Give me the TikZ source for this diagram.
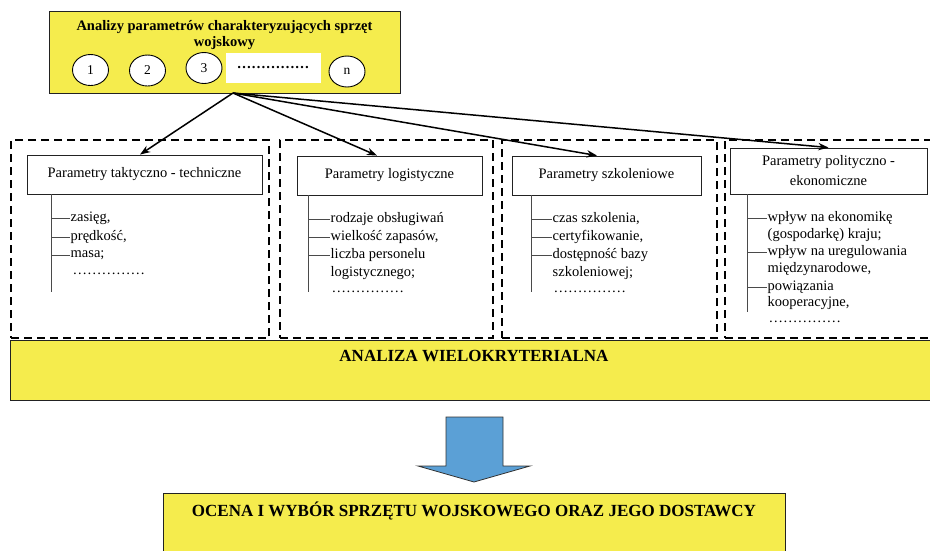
\documentclass[tikz,border=0pt]{standalone}
\usepackage{fontspec}
\setmainfont{Liberation Serif}
\usetikzlibrary{arrows.meta,positioning,calc,shapes.geometric}
\definecolor{PZolty}{HTML}{F5EC4D}
\definecolor{PNiebieski}{HTML}{5BA0D6}
\definecolor{PRamka}{HTML}{222222}
\definecolor{PLinia}{HTML}{4A4A4A}
\tikzset{
  flow/.style={-{Stealth[length=3.6mm,width=2.6mm]},black,line width=1.5pt},
  ramka/.style={draw=black,line width=2.4pt,dash pattern=on 8pt off 5pt},
  zolty/.style={draw=PRamka,fill=PZolty,line width=0.9pt},
  paramkarta/.style={draw=PRamka,fill=white,line width=0.9pt,inner sep=0pt,
                     align=center,font=\fontsize{14.5}{20}\selectfont},
  kolko/.style={ellipse,draw=black,fill=white,line width=0.9pt,inner sep=0pt,
                minimum width=36pt,minimum height=31pt,font=\fontsize{13.5}{16}\selectfont},
  pozycja/.style={anchor=west,inner sep=0.5pt,font=\fontsize{14.5}{18}\selectfont},
  galaz/.style={PLinia,line width=1pt},
  naglowek/.style={font=\bfseries\fontsize{17}{20}\selectfont},
  strzalka/.style={draw=black!80,fill=PNiebieski,line width=0.8pt},
}
\begin{document}
\begin{tikzpicture}[x=1pt,y=-1pt]
    \useasboundingbox (0,0) rectangle (930,550);

    % grupy parametrow
    \node[ramka,minimum width=258pt,minimum height=198pt] (grupa1) at (140,239) {};
    \node[ramka,minimum width=213pt,minimum height=198pt] (grupa2) at (386.5,239) {};
    \node[ramka,minimum width=215pt,minimum height=198pt] (grupa3) at (609.5,239) {};
    \node[ramka,minimum width=245pt,minimum height=198pt] (grupa4) at (847.5,239) {};

    \node[zolty,minimum width=960pt,minimum height=60pt] (analiza) at (490,370) {};
    \node[naglowek] (analizatxt) at (474,356) {ANALIZA WIELOKRYTERIALNA};

    % naglowek z lista analiz
    \node[zolty,minimum width=351pt,minimum height=82pt] (analizy) at (224.5,52) {};
    \node[font=\bfseries\fontsize{14.5}{16}\selectfont,align=center] (tytul) at (224.5,35.5)
      {Analizy parametrów charakteryzujących sprzęt\\wojskowy};
    \node[kolko] (k1) at (90.5,70) {1};
    \node[kolko] (k2) at (147.5,70.5) {2};
    \node[kolko] (k3) at (204,68) {3};
    \node[fill=white,minimum width=95pt,minimum height=30pt,inner sep=0pt,
          font=\bfseries\fontsize{14.5}{15}\selectfont] (kropki) at (273,68) {……………};
    \node[kolko] (kn) at (347,71.5) {n};

    % karty parametrow
    \node[paramkarta,minimum width=235pt,minimum height=39pt] (p1) at (144.5,174.5)
      {Parametry taktyczno - techniczne};
    \node[paramkarta,minimum width=185pt,minimum height=39pt] (p2) at (389.5,175.5)
      {Parametry logistyczne};
    \node[paramkarta,minimum width=189pt,minimum height=39pt] (p3) at (606.5,175.5)
      {Parametry szkoleniowe};
    \node[paramkarta,minimum width=197pt,minimum height=46pt] (p4) at (828.5,171)
      {Parametry polityczno -\\ekonomiczne};

    \coordinate (wezel) at (233,93);
    \draw[flow] (wezel) -- ([xshift=-4.5pt]p1.north);
    \draw[flow] (wezel) -- ([xshift=-12.5pt]p2.north);
    \draw[flow] (wezel) -- ([xshift=-9.5pt]p3.north);
    \draw[flow] (wezel) -- (p4.north);

    % taktyczno-techniczne
    \coordinate (s1) at (51,292);
    \node[pozycja] (t1) at (70,218) {zasięg,};
    \node[pozycja] (t2) at (70,237) {prędkość,};
    \node[pozycja] (t3) at (70,255) {masa;};
    \node[pozycja] (t4) at (72,274) {……………};
    \draw[galaz] (p1.south -| s1) -- (s1);
    \draw[galaz] (t1.west -| s1) -- (t1.west);
    \draw[galaz] (t2.west -| s1) -- (t2.west);
    \draw[galaz] (t3.west -| s1) -- (t3.west);

    % logistyczne
    \coordinate (s2) at (308,292);
    \node[pozycja] (l1) at (330,219) {rodzaje obsługiwań};
    \node[pozycja] (l2) at (330,237) {wielkość zapasów,};
    \node[pozycja] (l3) at (330,255) {liczba personelu};
    \node[pozycja] (l4) at (330,273) {logistycznego;};
    \node[pozycja] (l5) at (331,292) {……………};
    \draw[galaz] (p2.south -| s2) -- (s2);
    \draw[galaz] (l1.west -| s2) -- (l1.west);
    \draw[galaz] (l2.west -| s2) -- (l2.west);
    \draw[galaz] (l3.west -| s2) -- (l3.west);

    % szkoleniowe
    \coordinate (s3) at (531,292);
    \node[pozycja] (e1) at (552,219) {czas szkolenia,};
    \node[pozycja] (e2) at (552,237) {certyfikowanie,};
    \node[pozycja] (e3) at (552,255) {dostępność bazy};
    \node[pozycja] (e4) at (552,273) {szkoleniowej;};
    \node[pozycja] (e5) at (553,292) {……………};
    \draw[galaz] (p3.south -| s3) -- (s3);
    \draw[galaz] (e1.west -| s3) -- (e1.west);
    \draw[galaz] (e2.west -| s3) -- (e2.west);
    \draw[galaz] (e3.west -| s3) -- (e3.west);

    % polityczno-ekonomiczne
    \coordinate (s4) at (747,312);
    \node[pozycja] (w1) at (767,218) {wpływ na ekonomikę};
    \node[pozycja] (w2) at (767,235) {(gospodarkę) kraju;};
    \node[pozycja] (w3) at (767,252) {wpływ na uregulowania};
    \node[pozycja] (w4) at (767,269) {międzynarodowe,};
    \node[pozycja] (w5) at (767,287) {powiązania};
    \node[pozycja] (w6) at (767,303) {kooperacyjne,};
    \node[pozycja] (w7) at (768,322) {……………};
    \draw[galaz] (p4.south -| s4) -- (s4);
    \draw[galaz] (w1.west -| s4) -- (w1.west);
    \draw[galaz] (w3.west -| s4) -- (w3.west);
    \draw[galaz] (w5.west -| s4) -- (w5.west);

    % wynik
    \draw[strzalka] (446,417) -- (503,417) -- (503,466) -- (530,466) -- (474,482)
      -- (418,466) -- (446,466) -- cycle;
    \node[zolty,minimum width=622pt,minimum height=80pt] (ocena) at (474,533) {};
    \node[naglowek] (ocenatxt) at (474,511)
      {OCENA I WYBÓR SPRZĘTU WOJSKOWEGO ORAZ JEGO DOSTAWCY};
  \end{tikzpicture}
\end{document}
